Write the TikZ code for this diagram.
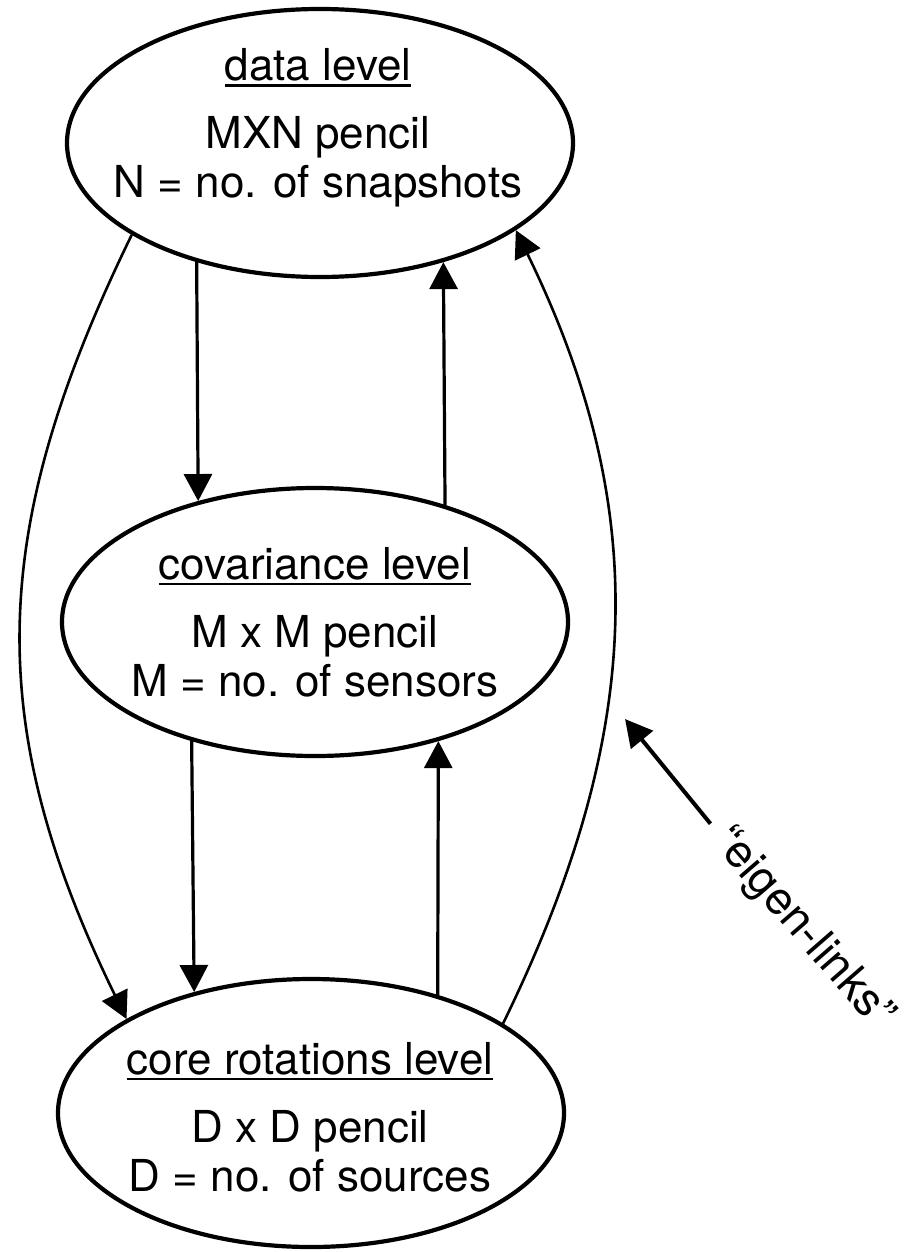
\documentclass[tikz,border=0pt]{standalone}
\usepackage{fontspec}
\setmainfont{TeX Gyre Heros}
\usetikzlibrary{shapes,arrows.meta,positioning}

\newcommand{\lvlul}[1]{\setbox0=\hbox{#1}\rlap{\rule[-3pt]{\wd0}{1.3pt}}\box0}

\tikzset{
  level/.style={draw, ellipse, line width=2.1pt, minimum width=253pt, minimum height=134pt, inner sep=0pt},
  lvltext/.style={align=center, inner sep=0pt, font=\fontsize{22}{24.5}\selectfont},
  link/.style={line width=1.6pt, -{Triangle[length=13.5pt,width=14pt]}},
  outer/.style={line width=1.3pt, -{Triangle[length=13.5pt,width=14pt]}},
}

\begin{document}
\begin{tikzpicture}[x=0.5pt, y=-0.5pt]
    \useasboundingbox (0,0) rectangle (908,1252);

    \node[level] (data) at (320,143) {};
    \node[level] (cov) at (315,622) {};
    \node[level] (core) at (311,1113) {};

    \node[lvltext] (dataTxt) at (318,128) {\lvlul{data level}\\[9.5pt] MXN pencil\\ N = no. of snapshots};
    \node[lvltext] (covTxt) at (315,622) {\lvlul{covariance level}\\[9.5pt] M x M pencil\\ M = no. of sensors};
    \node[lvltext] (coreTxt) at (310,1117) {\lvlul{core rotations level}\\[9.5pt] D x D pencil\\ D = no. of sources};

    \draw[link] (data.224) -- (cov.134);
    \draw[link] (cov.42) -- (data.316);
    \draw[link] (cov.224) -- (core.134);
    \draw[link] (core.43) -- (cov.316);

    \draw[outer] (data.206) to[out=244, in=116, looseness=1.07] (core.153);
    \draw[outer] (core.25) to[out=64, in=296, looseness=1.02] (data.336);

    \node[lvltext, inner sep=7pt, font=\fontsize{23}{25}\selectfont, rotate=-49] (eigen) at (802,929) {``eigen-links''};
    \coordinate (eigenTip) at (625,719);
    \draw[link, line width=2pt] (eigen.west) -- (eigenTip);
\end{tikzpicture}
\end{document}
